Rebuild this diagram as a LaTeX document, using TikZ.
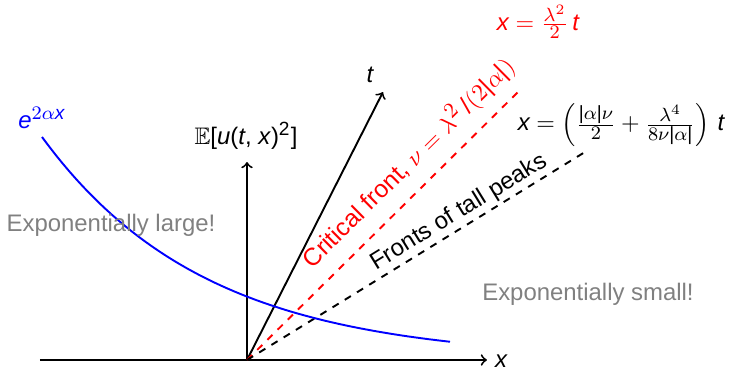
\documentclass[tikz,border=0pt]{standalone}
\usepackage{amssymb}
\usepackage{fontspec}
\setmainfont{Liberation Sans}
\usepackage[italic]{mathastext}
\usetikzlibrary{positioning}

\tikzset{
    axis/.style={thick, ->},
    front/.style={thick, dashed},
    remark/.style={text=gray, inner sep=0pt},
    eqlabel/.style={inner sep=0pt}
}

\begin{document}
\begin{tikzpicture}[x=0.0147cm, y=-0.0147cm]
\useasboundingbox (0,0) rectangle (730,372);

% ===== Axes =====
\coordinate (O)  at (247,360);
\coordinate (xl) at (40,360);
\coordinate (xr) at (487,360);
\coordinate (yt) at (247,162);
\coordinate (tt) at (383,92);
\draw[axis] (xl) -- (xr);
\draw[axis] (O) -- (yt);
\draw[axis] (O) -- (tt);
\node[eqlabel] (xlab) at (501,361) {$x$};
\node[eqlabel] (tlab) at (370,75) {$t$};
\node[eqlabel] (Elab) at (246,136)
    {$\mathbb{E}$[\textit{u}(\textit{t}, \textit{x})\textsuperscript{2}]};

% ===== Fronts =====
\coordinate (rc) at (518,92);
\coordinate (bf) at (585,152);
\draw[front, red] (O) -- node[sloped, above=1.5pt, pos=0.665,
    font=\fontsize{10.3}{12}\selectfont] (critlab)
    {Critical front, $\nu=\lambda^2\,/(2|\alpha|)$} (rc);
\draw[front] (O) -- node[sloped, above, inner sep=1pt, pos=0.65] (tallab)
    {Fronts of tall peaks} (bf);
\node[eqlabel, text=red] (reqn) at (538,22) {$x=\frac{\lambda^2}{2}\,t$};
\node[eqlabel] (beqn) at (621,125)
    {$x=\left(\frac{|\alpha|\nu}{2}+\frac{\lambda^4}{8\nu|\alpha|}\right)\,t$};

% ===== Second moment =====
\draw[thick, blue] plot[domain=42:450, samples=60]
    (\x, {360-223*exp(-0.00614*(\x-42))});
\node[eqlabel, text=blue] (elab) at (42,118) {$e^{2\alpha x}$};
\node[remark] (large) at (111,225) {Exponentially large!};
\node[remark] (small) at (588,294) {Exponentially small!};

\end{tikzpicture}
\end{document}
